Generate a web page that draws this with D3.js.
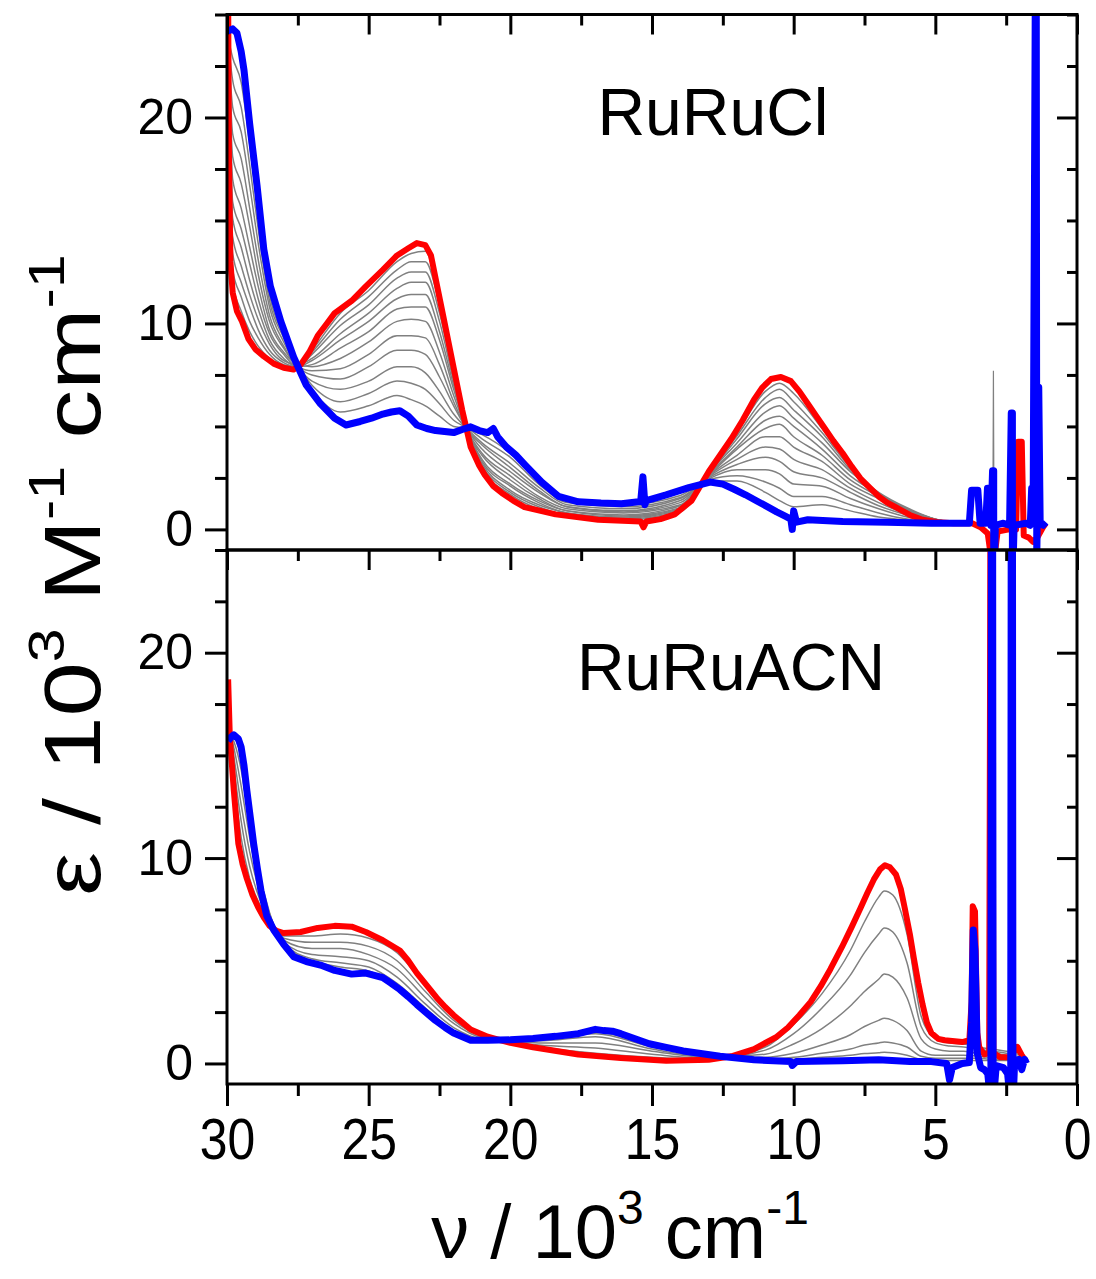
<!DOCTYPE html>
<html>
<head>
<meta charset="utf-8">
<script src="https://cdn.jsdelivr.net/npm/d3@7"></script>
<style>
  body { margin: 0; background: #fff; }
  text { font-family: "Liberation Sans", Arial, sans-serif; fill: #000; }
</style>
</head>
<body>
<div id="chart"></div>
<script>
// ---- data (x in 10^3 cm-1, y in 10^3 M-1 cm-1) ----
const xTicks = [30, 25, 20, 15, 10, 5, 0];
const xMinor = [27.5, 22.5, 17.5, 12.5, 7.5, 2.5];
const yTicks = [0, 10, 20];
const yMinor = [2.5, 5, 7.5, 12.5, 15, 17.5, 22.5, 25];
const panelNames = ['RuRuCl', 'RuRuACN'];

// RuRuCl: start (red) and end (blue) spectra
const redCl = [
  [29.96, 26], [29.93, 18], [29.88, 13], [29.8, 11.5], [29.65, 10.6], [29.47, 10.1], [29.24, 9.24],
  [29.0, 8.75], [28.7, 8.4], [28.35, 8.05], [28.0, 7.85], [27.65, 7.76], [27.4, 8.0], [27.1, 8.6],
  [26.8, 9.4], [26.5, 9.95], [26.2, 10.5], [25.6, 11.1], [25.1, 11.8], [24.5, 12.6], [24.0, 13.3],
  [23.6, 13.65], [23.3, 13.9], [23.0, 13.8], [22.8, 13.3], [22.64, 12.2], [22.33, 10.1], [22.0, 7.85],
  [21.7, 5.8], [21.4, 4.0], [21.1, 3.1], [20.9, 2.64], [20.6, 2.1], [20.3, 1.77], [19.9, 1.4],
  [19.5, 1.08], [18.4, 0.73], [16.9, 0.47], [15.4, 0.38], [15.3, 0.1], [15.2, 0.38], [14.7, 0.5],
  [14.2, 0.73], [13.6, 1.4], [13.0, 2.8], [12.6, 3.6], [12.2, 4.4], [11.8, 5.3], [11.4, 6.3],
  [11.1, 6.9], [10.8, 7.3], [10.45, 7.4], [10.1, 7.2], [9.8, 6.7], [9.5, 6.1], [9.2, 5.5], [8.9, 4.9],
  [8.6, 4.3], [8.27, 3.7], [7.95, 3.05], [7.64, 2.47], [7.3, 2.0], [7.0, 1.6], [6.7, 1.3], [6.4, 1.08],
  [5.9, 0.7], [5.45, 0.47], [4.9, 0.35], [4.36, 0.3], [3.7, 0.3], [3.4, 0.1], [3.15, -0.2], [3.05, -1.2],
  [2.9, -1.2], [2.8, -0.1], [2.4, 0.0], [2.15, 0.0], [2.08, 4.26], [1.95, 4.26], [1.88, -0.3],
  [1.7, -0.4], [1.55, -0.6], [1.4, -0.4], [1.2, 0.1], [1.1, 0.3]
];
const blueCl = [
  [29.97, 24.2], [29.8, 24.3], [29.65, 24.1], [29.5, 23.2], [29.4, 22.3], [29.2, 19.7], [28.94, 16.7],
  [28.7, 13.6], [28.47, 11.8], [28.1, 10.1], [27.65, 8.37], [27.2, 7.0], [26.7, 6.1], [26.2, 5.4],
  [25.8, 5.07], [25.3, 5.24], [24.9, 5.4], [24.5, 5.6], [24.2, 5.7], [23.9, 5.76], [23.6, 5.5],
  [23.3, 5.07], [22.95, 4.9], [22.64, 4.8], [22.0, 4.7], [21.7, 4.85], [21.4, 4.98], [21.1, 4.8],
  [20.8, 4.7], [20.6, 4.9], [20.45, 4.5], [20.14, 4.0], [19.8, 3.6], [19.5, 3.16], [18.9, 2.3],
  [18.3, 1.6], [17.6, 1.34], [16.8, 1.28], [16.08, 1.25], [15.4, 1.35], [15.32, 2.55], [15.25, 1.2],
  [15.2, 1.4], [14.5, 1.68], [13.7, 2.03], [12.95, 2.3], [12.5, 2.2], [12.1, 1.95], [11.7, 1.68],
  [11.3, 1.38], [10.9, 1.08], [10.6, 0.85], [10.3, 0.64], [10.1, 0.5], [10.05, 0.0], [10.0, 0.9],
  [9.9, 0.35], [9.5, 0.47], [8.27, 0.38], [6.7, 0.35], [5.14, 0.3], [3.8, 0.3], [3.72, 1.9], [3.5, 1.9],
  [3.42, 0.3], [3.22, 0.3], [3.16, 2.0], [3.1, 2.0], [3.04, 0.2], [2.98, 2.85], [2.94, 2.85], [2.94, -3],
  [2.88, 0.2], [2.6, 0.3], [2.38, 0.2], [2.32, 5.65], [2.28, 5.65], [2.28, -3], [2.22, 0.2], [1.8, 0.3],
  [1.65, 0.2], [1.6, 2.0], [1.55, 0.3], [1.46, 30], [1.44, 30], [1.42, -1.5], [1.35, 6.9], [1.3, 0.3],
  [1.2, 0.2], [1.1, 0.35]
];
// intermediate spectra: one column per x of greyGridCl, 12 traces per column
const greyGridCl = [29.95, 29.8, 29.5, 29.2, 28.9, 28.5, 28.0, 27.5, 27.0, 26.0, 25.0, 24.0, 23.5, 23.0,
  22.5, 22.0, 21.5, 21.0, 20.0, 19.0, 18.0, 16.0, 14.0, 13.0, 12.0, 11.0, 10.5, 10.0, 9.0, 8.0, 7.0, 6.0, 5.0, 4.0];
const greyClCols = [
  [23.9, 23.9, 23.8, 23.8, 23.7, 23.7, 23.6, 23.6, 23.5, 23.5, 23.6, 23.8],
  [12.0, 12.6, 13.4, 14.2, 15.1, 15.9, 17.0, 18.1, 19.2, 20.5, 21.8, 22.9],
  [10.6, 11.3, 12.0, 12.8, 13.7, 14.6, 15.6, 16.8, 18.0, 19.3, 20.5, 21.7],
  [9.6, 10.1, 10.8, 11.4, 12.1, 12.9, 13.7, 14.7, 15.6, 16.7, 17.7, 18.7],
  [8.9, 9.3, 9.7, 10.2, 10.7, 11.2, 11.8, 12.4, 13.1, 13.9, 14.6, 15.3],
  [8.3, 8.5, 8.7, 9.0, 9.2, 9.5, 9.7, 10.1, 10.4, 10.8, 11.1, 11.4],
  [7.9, 8.0, 8.1, 8.2, 8.3, 8.5, 8.6, 8.8, 8.9, 9.1, 9.3, 9.4],
  [7.9, 7.9, 7.9, 8.0, 7.9, 7.9, 8.0, 7.9, 7.9, 7.9, 7.9, 7.9],
  [8.7, 8.6, 8.5, 8.3, 8.2, 8.0, 7.9, 7.7, 7.5, 7.2, 7.0, 6.8],
  [10.5, 10.2, 9.9, 9.5, 9.2, 8.8, 8.3, 7.8, 7.3, 6.8, 6.2, 5.7],
  [11.6, 11.3, 10.9, 10.5, 10.1, 9.6, 9.1, 8.5, 7.9, 7.2, 6.6, 6.0],
  [13.0, 12.6, 12.2, 11.7, 11.2, 10.7, 10.1, 9.4, 8.7, 7.9, 7.2, 6.5],
  [13.4, 13.0, 12.5, 12.0, 11.4, 10.8, 10.2, 9.4, 8.7, 7.9, 7.1, 6.3],
  [13.5, 13.0, 12.5, 12.0, 11.4, 10.8, 10.1, 9.3, 8.5, 7.6, 6.8, 6.0],
  [11.2, 10.9, 10.5, 10.1, 9.6, 9.2, 8.6, 8.0, 7.4, 6.7, 6.1, 5.5],
  [7.7, 7.6, 7.4, 7.2, 7.0, 6.8, 6.5, 6.2, 6.0, 5.6, 5.3, 5.0],
  [4.6, 4.6, 4.65, 4.7, 4.7, 4.7, 4.75, 4.8, 4.8, 4.85, 4.9, 4.9],
  [3.0, 3.1, 3.2, 3.3, 3.4, 3.6, 3.7, 3.9, 4.1, 4.2, 4.4, 4.6],
  [1.7, 1.8, 1.9, 2.1, 2.2, 2.4, 2.6, 2.8, 3.0, 3.2, 3.5, 3.7],
  [1.0, 1.1, 1.2, 1.3, 1.4, 1.5, 1.6, 1.8, 1.9, 2.05, 2.2, 2.35],
  [0.7, 0.7, 0.8, 0.8, 0.9, 0.9, 1.0, 1.1, 1.1, 1.2, 1.3, 1.4],
  [0.45, 0.5, 0.55, 0.6, 0.65, 0.7, 0.8, 0.85, 0.9, 1.0, 1.1, 1.2],
  [0.85, 0.9, 0.95, 1.0, 1.05, 1.15, 1.2, 1.3, 1.4, 1.5, 1.55, 1.65],
  [2.8, 2.75, 2.7, 2.7, 2.65, 2.6, 2.6, 2.55, 2.5, 2.45, 2.4, 2.35],
  [4.7, 4.55, 4.4, 4.2, 4.0, 3.9, 3.6, 3.4, 3.15, 2.9, 2.6, 2.35],
  [6.7, 6.4, 6.1, 5.7, 5.3, 4.9, 4.5, 4.0, 3.5, 2.9, 2.3, 1.8],
  [7.1, 6.8, 6.4, 6.0, 5.5, 5.1, 4.5, 3.9, 3.3, 2.7, 2.0, 1.4],
  [6.6, 6.2, 5.8, 5.4, 5.0, 4.5, 4.0, 3.4, 2.8, 2.2, 1.6, 1.1],
  [4.9, 4.7, 4.5, 4.2, 3.9, 3.6, 3.3, 2.9, 2.5, 2.1, 1.6, 1.2],
  [3.1, 3.0, 2.9, 2.8, 2.6, 2.4, 2.2, 2.0, 1.8, 1.5, 1.2, 0.9],
  [1.7, 1.75, 1.8, 1.75, 1.7, 1.6, 1.5, 1.3, 1.15, 1.0, 0.8, 0.6],
  [0.95, 1.0, 1.05, 1.0, 0.95, 0.9, 0.85, 0.75, 0.7, 0.6, 0.5, 0.45],
  [0.45, 0.5, 0.5, 0.5, 0.5, 0.45, 0.45, 0.4, 0.4, 0.35, 0.35, 0.3],
  [0.3, 0.3, 0.3, 0.3, 0.3, 0.3, 0.3, 0.3, 0.3, 0.3, 0.3, 0.3]
];
const greySpikeCl = [[3.3, 0.3], [2.97, 0.3], [2.95, 7.7], [2.93, 0.3], [2.6, 0.3]];

// RuRuACN
const redAcn = [
  [29.96, 18.7], [29.9, 15.9], [29.76, 13.3], [29.6, 10.7], [29.45, 9.7], [29.3, 9.0], [29.1, 8.2],
  [28.9, 7.6], [28.7, 7.1], [28.5, 6.7], [28.25, 6.45], [28.0, 6.35], [27.4, 6.4], [26.8, 6.6],
  [26.2, 6.7], [25.6, 6.66], [25.1, 6.4], [24.5, 6.0], [23.9, 5.5], [23.6, 5.0], [23.3, 4.4],
  [22.95, 3.8], [22.6, 3.2], [22.3, 2.75], [22.0, 2.35], [21.7, 2.0], [21.4, 1.65], [20.8, 1.3],
  [20.0, 1.0], [19.2, 0.79], [17.6, 0.44], [16.1, 0.27], [14.5, 0.13], [13.0, 0.18], [12.2, 0.35],
  [11.4, 0.7], [10.6, 1.3], [10.2, 1.75], [9.8, 2.35], [9.4, 3.0], [9.05, 3.75], [8.7, 4.6], [8.3, 5.66],
  [7.95, 6.65], [7.64, 7.57], [7.4, 8.3], [7.17, 8.96], [6.95, 9.45], [6.78, 9.65], [6.6, 9.55],
  [6.39, 9.2], [6.22, 8.5], [6.08, 7.57], [5.9, 6.3], [5.76, 5.14], [5.6, 3.9], [5.45, 2.87], [5.3, 2.0],
  [5.14, 1.48], [4.9, 1.2], [4.67, 1.13], [4.05, 1.04], [3.8, 1.13], [3.72, 3.0], [3.68, 7.66],
  [3.6, 7.4], [3.52, 1.5], [3.45, 0.79], [3.27, 0.44], [3.1, 0.5], [3.05, 30], [3.0, 30], [2.95, 0.5],
  [2.7, 0.3], [2.4, 0.3], [2.1, 0.8], [1.95, 0.4], [1.8, 0.1]
];
const blueAcn = [
  [29.96, 15.7], [29.85, 15.9], [29.76, 16.0], [29.6, 15.8], [29.5, 15.4], [29.4, 14.5], [29.3, 13.3],
  [29.18, 12.0], [29.06, 10.7], [28.93, 9.5], [28.8, 8.4], [28.6, 7.2], [28.35, 6.5], [28.0, 5.8],
  [27.65, 5.2], [27.2, 4.96], [26.7, 4.79], [26.2, 4.53], [25.6, 4.35], [25.1, 4.4], [24.5, 4.18],
  [24.2, 3.9], [23.9, 3.6], [23.6, 3.25], [23.3, 2.87], [22.95, 2.45], [22.64, 2.09], [22.3, 1.75],
  [22.0, 1.48], [21.4, 1.13], [20.8, 1.13], [20.0, 1.15], [19.2, 1.22], [18.4, 1.32], [17.6, 1.45],
  [17.0, 1.66], [16.7, 1.6], [16.4, 1.57], [16.1, 1.45], [15.8, 1.3], [15.1, 0.96], [14.5, 0.78],
  [13.9, 0.61], [12.6, 0.35], [11.4, 0.18], [10.1, 0.09], [10.05, -0.1], [9.9, 0.1], [8.27, 0.13],
  [7.0, 0.18], [5.9, 0.09], [5.14, 0.09], [4.6, 0.0], [4.5, -0.8], [4.4, -0.2], [4.05, 0.0], [3.8, 0.05],
  [3.72, 2.0], [3.66, 6.5], [3.6, 5.5], [3.52, 0.5], [3.4, -0.2], [3.27, -0.3], [3.15, -0.5], [3.04, -2],
  [3.02, 30], [2.98, 30], [2.96, -2], [2.85, -0.1], [2.6, -0.2], [2.45, -0.5], [2.34, -2],
  [2.32, 30], [2.28, 30], [2.26, -2], [2.2, 0.1], [2.05, 0.2], [1.95, -0.3], [1.85, 0.2], [1.78, 0.0]
];
const greyGridAcn = [29.95, 29.8, 29.5, 29.2, 28.9, 28.5, 28.0, 27.0, 26.0, 25.0, 24.0, 23.0, 22.0, 21.0,
  20.0, 19.0, 17.0, 15.0, 13.0, 11.0, 10.0, 9.0, 8.0, 7.5, 7.0, 6.8, 6.5, 6.0, 5.5, 5.0, 4.5, 4.0, 3.5, 3.0, 2.5, 2.0];
// one row per intermediate trace
const greyAcn = [
  [17.5, 14.5, 11.0, 9.0, 7.9, 6.9, 6.2, 6.2, 6.3, 6.1, 5.4, 3.8, 2.3, 1.4, 1.0, 0.8, 0.5, 0.3, 0.2, 0.8, 1.9, 3.4, 5.5, 6.9, 8.1, 8.4, 8.2, 6.3, 2.3, 1.2, 1.0, 0.95, 0.8, 0.7, 0.6, 0.5],
  [17.0, 15.0, 11.8, 9.6, 8.2, 7.0, 6.1, 5.9, 5.9, 5.7, 5.0, 3.5, 2.1, 1.3, 1.05, 0.9, 0.75, 0.45, 0.25, 0.65, 1.45, 2.7, 4.3, 5.4, 6.3, 6.6, 6.4, 4.9, 1.8, 1.0, 0.85, 0.8, 0.7, 0.6, 0.5, 0.45],
  [16.5, 15.3, 12.6, 10.3, 8.6, 7.1, 6.0, 5.6, 5.6, 5.3, 4.6, 3.2, 1.95, 1.25, 1.1, 1.0, 1.0, 0.6, 0.3, 0.45, 0.95, 1.7, 2.8, 3.5, 4.1, 4.35, 4.2, 3.2, 1.2, 0.7, 0.6, 0.6, 0.5, 0.5, 0.4, 0.35],
  [16.2, 15.6, 13.5, 11.0, 9.0, 7.2, 5.9, 5.3, 5.2, 5.0, 4.2, 2.9, 1.75, 1.2, 1.12, 1.1, 1.3, 0.7, 0.33, 0.3, 0.5, 0.9, 1.4, 1.8, 2.1, 2.2, 2.1, 1.6, 0.6, 0.4, 0.4, 0.4, 0.35, 0.3, 0.3, 0.25],
  [16.0, 15.8, 14.3, 11.7, 9.3, 7.3, 5.85, 5.1, 4.9, 4.7, 3.9, 2.7, 1.6, 1.15, 1.13, 1.18, 1.45, 0.8, 0.36, 0.22, 0.3, 0.5, 0.7, 0.9, 1.0, 1.05, 1.0, 0.8, 0.35, 0.25, 0.25, 0.25, 0.25, 0.2, 0.2, 0.2],
  [15.8, 15.9, 14.9, 12.2, 9.6, 7.35, 5.8, 5.0, 4.7, 4.5, 3.75, 2.6, 1.55, 1.14, 1.14, 1.22, 1.55, 0.85, 0.38, 0.18, 0.2, 0.3, 0.4, 0.48, 0.52, 0.55, 0.52, 0.4, 0.2, 0.15, 0.15, 0.15, 0.15, 0.15, 0.15, 0.15]
];
const greySpikeAcn = [[3.8, 0.9], [3.7, 1.3], [3.66, 7.3], [3.58, 6.9], [3.52, 1.1], [3.4, 0.8]];

// ---- layout ----
const width = 1096, height = 1279;
const plotLeft = 227, plotRight = 1077;
const panelTops = [14.5, 550];
const panelBottoms = [550, 1084];
const FONT = '"Liberation Sans", Arial, sans-serif';

const svg = d3.select('#chart').append('svg').attr('width', width).attr('height', height);

const x = d3.scaleLinear().domain([30, 0]).range([plotLeft, plotRight]);

const panels = [
  { name: panelNames[0], red: redCl, blue: blueCl, greys: d3.transpose(greyClCols).map(r => r.map((v, i) => [greyGridCl[i], v])), spike: greySpikeCl, labelX: 713, labelY: 135 },
  { name: panelNames[1], red: redAcn, blue: blueAcn, greys: greyAcn.map(r => r.map((v, i) => [greyGridAcn[i], v])), spike: greySpikeAcn, labelX: 731, labelY: 690 }
];

// 坐标轴统一样式: 去掉domain, 粗刻度线
function axisStyle(sel, fontSize) {
  sel.select('.domain').remove();
  sel.selectAll('line').attr('stroke', '#000').attr('stroke-width', 3);
  sel.selectAll('text').attr('font-size', fontSize || 40).attr('font-family', FONT).attr('fill', '#000');
}

panels.forEach((p, idx) => {
  const top = panelTops[idx], bottom = panelBottoms[idx];
  const y = d3.scaleLinear().domain([-1, 25]).range([bottom, top]);
  const g = svg.append('g').attr('class', 'panel');

  // 曲线裁剪到各自的面板
  const clipId = 'clip' + idx;
  svg.append('clipPath').attr('id', clipId).append('rect')
    .attr('x', plotLeft).attr('y', top).attr('width', plotRight - plotLeft).attr('height', bottom - top);

  const curves = g.append('g').attr('clip-path', `url(#${clipId})`);
  const line = d3.line().x(d => x(d[0])).y(d => y(d[1]));
  const smooth = d3.line().x(d => x(d[0])).y(d => y(d[1])).curve(d3.curveMonotoneX);

  curves.selectAll('.grey').data(p.greys).enter().append('path')
    .attr('class', 'grey').attr('d', smooth)
    .attr('fill', 'none').attr('stroke', '#808080').attr('stroke-width', 1.5);
  curves.append('path').attr('d', line(p.spike))
    .attr('fill', 'none').attr('stroke', '#808080').attr('stroke-width', 1.2);
  curves.append('path').attr('d', line(p.red))
    .attr('fill', 'none').attr('stroke', '#ff0000').attr('stroke-width', 6).attr('stroke-linejoin', 'round');
  curves.append('path').attr('d', line(p.blue))
    .attr('fill', 'none').attr('stroke', '#0000ff').attr('stroke-width', 7).attr('stroke-linejoin', 'round');

  // 左侧刻度朝外, 右/上刻度朝内
  g.append('g').attr('transform', `translate(${plotLeft},0)`)
    .call(d3.axisLeft(y).tickValues(yTicks).tickSize(22).tickPadding(12).tickFormat(d3.format('d')))
    .call(axisStyle, 50);
  g.append('g').attr('transform', `translate(${plotLeft},0)`)
    .call(d3.axisLeft(y).tickValues(yMinor).tickSize(12).tickFormat(''))
    .call(axisStyle);
  g.append('g').attr('transform', `translate(${plotRight},0)`)
    .call(d3.axisLeft(y).tickValues(yTicks).tickSize(20).tickFormat(''))
    .call(axisStyle);
  g.append('g').attr('transform', `translate(${plotRight},0)`)
    .call(d3.axisLeft(y).tickValues(yMinor).tickSize(10).tickFormat(''))
    .call(axisStyle);
  g.append('g').attr('transform', `translate(0,${top})`)
    .call(d3.axisBottom(x).tickValues(xTicks).tickSize(20).tickFormat(''))
    .call(axisStyle);
  g.append('g').attr('transform', `translate(0,${top})`)
    .call(d3.axisBottom(x).tickValues(xMinor).tickSize(11).tickFormat(''))
    .call(axisStyle);

  g.append('rect').attr('x', plotLeft).attr('y', top)
    .attr('width', plotRight - plotLeft).attr('height', bottom - top)
    .attr('fill', 'none').attr('stroke', '#000').attr('stroke-width', 3);

  g.append('text').attr('x', p.labelX).attr('y', p.labelY)
    .attr('text-anchor', 'middle').attr('font-size', 66).text(p.name);
});

// 底部x轴: 刻度朝外, 带标签
svg.append('g').attr('transform', `translate(0,${panelBottoms[1]})`)
  .call(d3.axisBottom(x).tickValues(xTicks).tickSize(22).tickPadding(12).tickFormat(d3.format('d')))
  .call(axisStyle, 58)
  .selectAll('text').attr('transform', 'scale(0.86,1)');
svg.append('g').attr('transform', `translate(0,${panelBottoms[1]})`)
  .call(d3.axisBottom(x).tickValues(xMinor).tickSize(12).tickFormat(''))
  .call(axisStyle);

// axis titles
const xTitle = svg.append('text').attr('x', 620).attr('y', 1258)
  .attr('text-anchor', 'middle').attr('font-size', 76);
xTitle.append('tspan').text('ν / 10');
xTitle.append('tspan').attr('dy', -34).attr('font-size', 48).text('3');
xTitle.append('tspan').attr('dy', 34).text(' cm');
xTitle.append('tspan').attr('dy', -34).attr('font-size', 48).text('-1');

// y title is stretched along its reading direction like the original
const yTitle = svg.append('text').attr('transform', 'translate(100,575) rotate(-90) scale(1.22,1)')
  .attr('text-anchor', 'middle').attr('font-size', 80);
yTitle.append('tspan').text('ε / 10');
yTitle.append('tspan').attr('dy', -36).attr('font-size', 50).text('3');
yTitle.append('tspan').attr('dy', 36).text(' M');
yTitle.append('tspan').attr('dy', -36).attr('font-size', 50).text('-1');
yTitle.append('tspan').attr('dy', 36).text(' cm');
yTitle.append('tspan').attr('dy', -36).attr('font-size', 50).text('-1');
</script>
</body>
</html>
